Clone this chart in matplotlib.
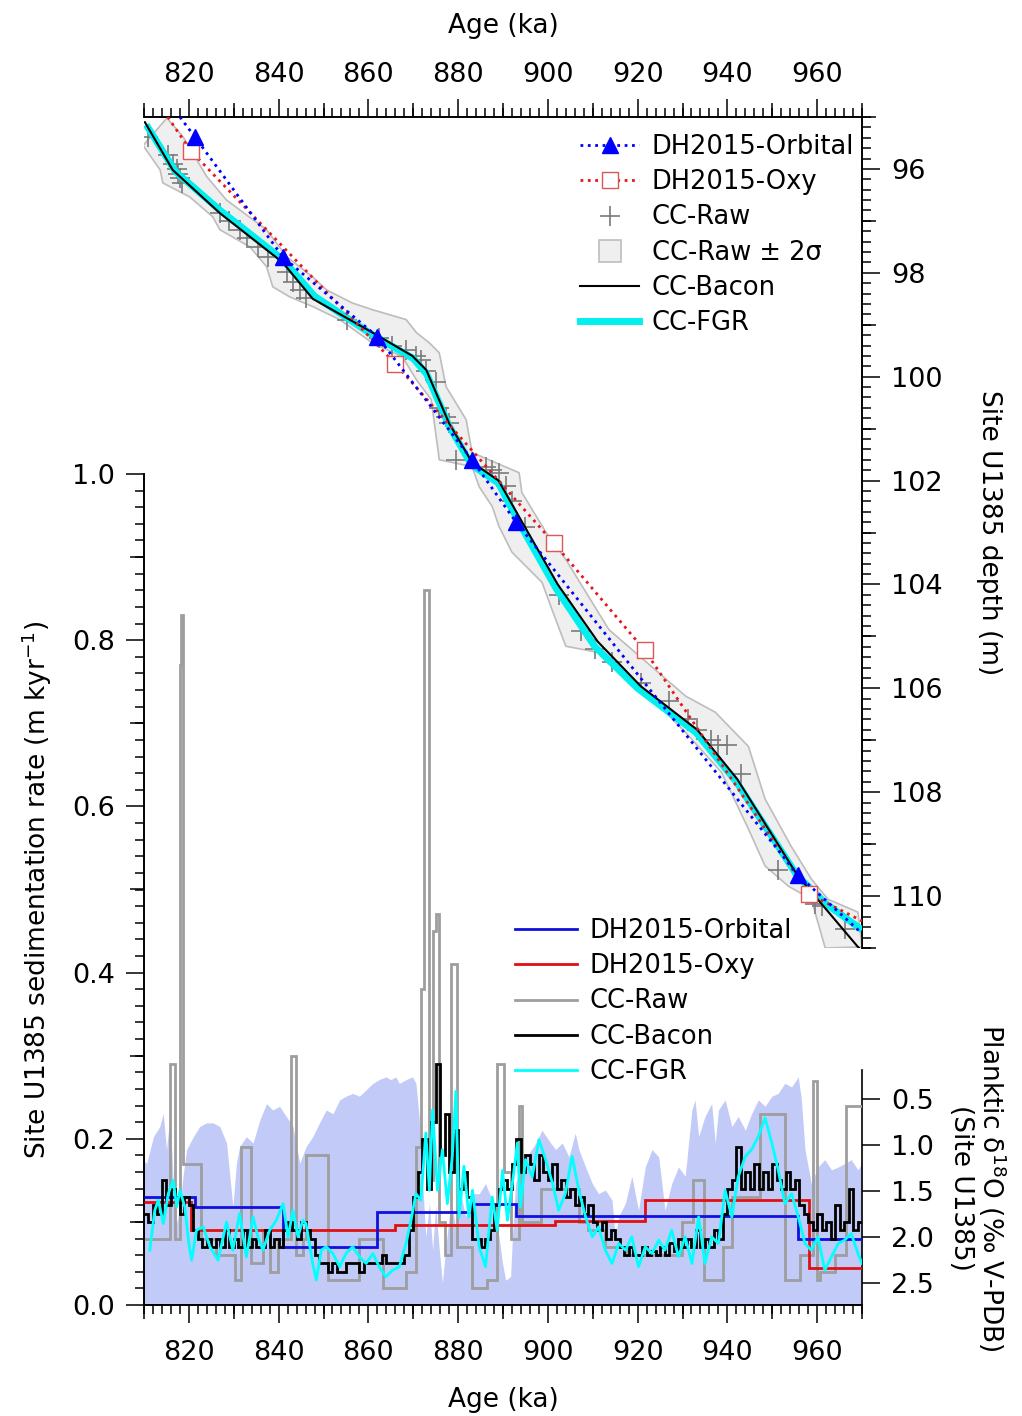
import numpy as np
import matplotlib.pyplot as plt
from matplotlib.lines import Line2D
from matplotlib.ticker import MultipleLocator

plt.rcParams['font.family'] = ['DejaVu Sans']
plt.rcParams['font.size'] = 19
plt.rcParams['xtick.labelsize'] = 19.5
plt.rcParams['ytick.labelsize'] = 19.5

# ---- top panel: age-depth models ----
bacon_age = [810.2, 816.4, 826.9, 840.9, 847.6, 860.9, 869.8, 872.9, 878.0, 883.1,
             889.0, 893.6, 902.2, 911.1, 920.7, 933.3, 942.2, 955.6, 968.9, 971.0]
bacon_depth = [95.1, 96.02, 96.85, 97.8, 98.5, 99.15, 99.6, 99.87, 100.9, 101.65,
               102.0, 102.7, 104.0, 105.1, 105.96, 106.8, 107.75, 109.6, 110.96, 111.16]

fgr_age = [810.5, 817.0, 827.0, 841.0, 848.0, 861.0, 870.0, 873.0, 878.0, 883.0,
           889.0, 893.5, 902.0, 910.5, 920.0, 933.0, 942.0, 955.5, 962.0, 970.0]
fgr_depth = [95.15, 96.05, 96.8, 97.75, 98.45, 99.2, 99.65, 99.95, 100.95, 101.7,
             102.05, 102.8, 104.1, 105.2, 106.0, 106.85, 107.8, 109.6, 110.15, 110.65]

# tie points (first and last entries are the extrapolated line ends)
orb_age = [818.0, 821.3, 841.0, 862.0, 883.1, 892.9, 955.8, 970.0]
orb_depth = [95.0, 95.38, 97.7, 99.23, 101.6, 102.8, 109.6, 110.72]
oxy_age = [815.3, 820.4, 866.0, 901.3, 921.6, 958.2, 970.0]
oxy_depth = [95.0, 95.65, 99.75, 103.2, 105.27, 109.96, 110.48]

raw_age = [811.0, 815.3, 816.4, 817.3, 817.6, 818.0, 818.4, 826.9, 829.0, 831.3,
           832.9, 835.3, 837.6, 841.8, 843.1, 844.7, 846.2, 855.3, 862.4, 865.3,
           868.4, 870.7, 871.8, 872.9, 875.1, 875.8, 877.3, 878.0, 879.6, 886.2,
           887.6, 889.0, 890.6, 892.0, 895.0, 902.4, 907.3, 910.4, 914.2, 920.7,
           926.9, 931.3, 933.3, 936.4, 937.8, 940.0, 943.0, 951.3, 959.6, 961.0, 966.2]
raw_depth = [95.38, 95.73, 95.9, 96.0, 96.1, 96.17, 96.27, 96.85, 97.0, 97.17,
             97.33, 97.5, 97.7, 97.98, 98.17, 98.33, 98.48, 98.9, 99.25, 99.4,
             99.48, 99.6, 99.67, 99.9, 100.1, 100.6, 100.77, 100.9, 101.6, 101.73,
             101.8, 101.85, 102.1, 102.4, 102.9, 104.2, 104.9, 105.25, 105.5, 105.9,
             106.25, 106.6, 106.8, 107.0, 107.1, 107.1, 107.65, 109.5, 110.15, 110.2, 110.63]

# +/- 2 sigma envelope: young edge and old edge
band_lo_age = [809.8, 813.6, 814.2, 820.2, 825.3, 826.9, 833.6, 837.3, 838.7, 842.4,
               847.6, 853.6, 860.9, 867.6, 870.7, 874.0, 875.8, 883.1, 884.7, 887.6,
               889.1, 892.0, 898.7, 900.9, 904.0, 911.3, 918.7, 926.2, 930.7, 938.7,
               944.7, 948.4, 953.6, 958.7, 961.8]
band_lo_depth = [95.55, 96.02, 96.27, 96.54, 96.92, 97.17, 97.5, 97.88, 98.27, 98.46,
                 98.65, 98.9, 99.35, 99.62, 100.06, 100.44, 101.6, 101.73, 102.12, 102.5,
                 102.88, 103.38, 103.96, 104.48, 105.19, 105.31, 105.96, 106.46, 106.85, 107.62,
                 108.71, 109.42, 109.81, 110.06, 111.0]
band_hi_age = [815.1, 818.7, 824.0, 828.4, 837.3, 841.8, 847.6, 850.7, 856.4, 860.9,
               868.4, 870.7, 873.6, 875.8, 877.3, 881.8, 883.1, 893.6, 894.2, 899.6,
               904.0, 913.6, 930.7, 937.3, 944.7, 948.4, 954.2, 958.7, 962.4, 969.1, 970.0]
band_hi_depth = [95.02, 95.38, 96.15, 96.6, 97.17, 97.69, 98.08, 98.33, 98.58, 98.71,
                 98.9, 99.15, 99.35, 99.54, 100.19, 100.83, 101.46, 101.85, 102.23, 103.0,
                 103.52, 104.87, 106.15, 106.46, 107.12, 108.13, 109.04, 109.67, 110.06, 110.31, 110.98]

# ---- bottom panel: sedimentation rates (m/kyr) ----
orb_rate_edges = [810, 821.3, 841, 862, 883.1, 892.9, 955.8, 970]
orb_rate = [0.130, 0.118, 0.070, 0.112, 0.121, 0.107, 0.080]
oxy_rate_edges = [810, 820.5, 866, 901.5, 921.7, 958.2, 970]
oxy_rate = [0.124, 0.090, 0.096, 0.101, 0.126, 0.045]

raw_rate_edges = [810, 815.8, 816.9, 818.0, 818.3, 818.6, 822.8, 826.0, 830.2, 831.7,
                  833.9, 836.5, 838.0, 839.9, 842.8, 843.9, 845.4, 846.1, 851.0, 858.0,
                  863.2, 868.4, 870.6, 871.7, 872.4, 873.6, 874.4, 875.1, 875.8, 877.0,
                  878.4, 879.8, 883.2, 886.5, 888.7, 890.2, 891.7, 893.6, 894.3, 898.4,
                  906.9, 909.0, 912.8, 917.3, 929.8, 932.4, 934.7, 939.1, 941.0, 947.3,
                  952.8, 956.2, 959.1, 959.9, 960.6, 964.0, 966.5, 970]
raw_rate = [0.08, 0.29, 0.08, 0.77, 0.83, 0.17, 0.08, 0.06, 0.03, 0.19,
            0.05, 0.09, 0.04, 0.08, 0.30, 0.06, 0.08, 0.18, 0.03, 0.08,
            0.02, 0.04, 0.19, 0.38, 0.86, 0.15, 0.45, 0.47, 0.10, 0.06,
            0.41, 0.07, 0.02, 0.03, 0.29, 0.16, 0.08, 0.24, 0.10, 0.14,
            0.10, 0.09, 0.07, 0.06, 0.10, 0.15, 0.03, 0.07, 0.13, 0.23,
            0.03, 0.06, 0.27, 0.03, 0.04, 0.06, 0.24]

bacon_rate_start = 810
bacon_rate = [0.11, 0.10, 0.12, 0.11, 0.15, 0.12, 0.14, 0.13, 0.11, 0.13,
              0.12, 0.09, 0.08, 0.07, 0.08, 0.07, 0.08, 0.07, 0.09, 0.07,
              0.08, 0.07, 0.09, 0.07, 0.08, 0.07, 0.07, 0.09, 0.07, 0.08,
              0.07, 0.09, 0.10, 0.09, 0.08, 0.10, 0.09, 0.08, 0.06, 0.05,
              0.05, 0.04, 0.05, 0.04, 0.04, 0.05, 0.05, 0.05, 0.04, 0.05,
              0.05, 0.05, 0.05, 0.06, 0.05, 0.05, 0.05, 0.05, 0.06, 0.09,
              0.13, 0.16, 0.20, 0.14, 0.22, 0.29, 0.18, 0.23, 0.16, 0.21,
              0.14, 0.16, 0.13, 0.08, 0.08, 0.07, 0.08, 0.09, 0.12, 0.14,
              0.15, 0.14, 0.17, 0.20, 0.16, 0.18, 0.17, 0.15, 0.18, 0.16,
              0.15, 0.17, 0.14, 0.15, 0.13, 0.14, 0.12, 0.13, 0.11, 0.12,
              0.10, 0.09, 0.10, 0.08, 0.09, 0.08, 0.07, 0.06, 0.07, 0.06,
              0.06, 0.07, 0.06, 0.065, 0.06, 0.07, 0.06, 0.075, 0.065, 0.08,
              0.07, 0.08, 0.07, 0.09, 0.07, 0.08, 0.07, 0.09, 0.08, 0.11,
              0.14, 0.15, 0.19, 0.14, 0.16, 0.14, 0.17, 0.14, 0.16, 0.14,
              0.17, 0.15, 0.14, 0.16, 0.14, 0.15, 0.12, 0.11, 0.10, 0.09,
              0.11, 0.09, 0.10, 0.08, 0.12, 0.09, 0.10, 0.14, 0.09, 0.10]

fgr_rate_age = [811.3, 812.4, 813.2, 814.3, 815.4, 816.5, 817.3, 818.0, 819.1, 819.9,
                820.6, 821.7, 823.2, 824.7, 826.5, 828.4, 829.8, 831.3, 832.8, 834.3,
                835.4, 836.5, 838.0, 839.5, 841.0, 842.1, 843.2, 844.3, 845.4, 846.1,
                847.6, 848.4, 849.5, 850.6, 852.1, 853.6, 855.0, 856.5, 858.0, 859.5,
                861.0, 862.4, 863.9, 865.4, 866.9, 868.4, 869.5, 870.6, 871.7, 872.8,
                873.6, 874.3, 875.4, 876.5, 877.6, 878.7, 879.5, 880.2, 881.3, 882.4,
                883.2, 884.7, 886.1, 887.6, 888.7, 889.9, 891.0, 892.1, 893.2, 893.9,
                895.0, 896.5, 898.0, 899.5, 901.0, 902.4, 903.9, 905.4, 906.9, 908.4,
                909.9, 911.3, 912.8, 914.3, 915.8, 917.3, 918.7, 920.2, 921.7, 923.2,
                924.7, 926.1, 927.6, 929.1, 930.6, 932.1, 933.6, 935.0, 936.5, 938.0,
                939.5, 941.0, 942.4, 944.0, 945.4, 946.9, 948.4, 949.9, 951.3, 952.8,
                954.3, 955.8, 957.3, 958.7, 960.2, 961.7, 963.2, 964.7, 966.1, 967.6,
                969.1, 970.0]
fgr_rate = [0.066, 0.114, 0.126, 0.098, 0.134, 0.150, 0.118, 0.138, 0.118, 0.078,
            0.054, 0.090, 0.094, 0.070, 0.054, 0.100, 0.066, 0.110, 0.058, 0.106,
            0.082, 0.066, 0.090, 0.102, 0.122, 0.082, 0.114, 0.082, 0.102, 0.098,
            0.050, 0.030, 0.066, 0.070, 0.062, 0.046, 0.062, 0.070, 0.058, 0.050,
            0.062, 0.046, 0.034, 0.042, 0.046, 0.074, 0.102, 0.134, 0.126, 0.207,
            0.138, 0.235, 0.138, 0.187, 0.122, 0.179, 0.257, 0.106, 0.167, 0.106,
            0.138, 0.070, 0.046, 0.130, 0.090, 0.162, 0.102, 0.147, 0.195, 0.118,
            0.175, 0.154, 0.199, 0.175, 0.147, 0.114, 0.134, 0.179, 0.138, 0.106,
            0.082, 0.094, 0.066, 0.050, 0.074, 0.066, 0.082, 0.046, 0.070, 0.062,
            0.078, 0.066, 0.090, 0.058, 0.082, 0.050, 0.106, 0.050, 0.082, 0.074,
            0.138, 0.106, 0.154, 0.179, 0.187, 0.203, 0.225, 0.195, 0.163, 0.122,
            0.134, 0.106, 0.074, 0.066, 0.082, 0.042, 0.058, 0.074, 0.078, 0.086,
            0.062, 0.050]

# planktic d18O (per mil V-PDB)
d18o_age = [809.1, 810.6, 812.1, 813.5, 814.3, 815.0, 815.8, 816.5, 817.3, 818.0,
            818.7, 819.5, 821.0, 822.4, 823.9, 825.4, 826.9, 828.4, 829.8, 830.6,
            831.3, 832.8, 834.3, 835.8, 837.3, 838.7, 840.2, 841.7, 843.2, 844.7,
            846.1, 847.6, 849.1, 850.6, 852.1, 853.6, 855.0, 856.5, 858.0, 859.5,
            861.0, 862.4, 863.9, 865.0, 866.1, 866.9, 868.4, 869.8, 870.6, 871.3,
            872.1, 872.8, 873.6, 874.3, 875.0, 875.8, 876.5, 877.2, 878.0, 878.7,
            879.5, 880.2, 881.0, 881.7, 882.4, 883.2, 884.7, 886.1, 887.6, 889.1,
            889.9, 890.6, 891.7, 892.1, 892.8, 894.3, 895.8, 897.3, 898.7, 900.2,
            901.7, 903.2, 904.7, 906.1, 906.9, 908.4, 909.9, 911.3, 912.8, 914.3,
            915.0, 915.8, 917.3, 918.7, 920.2, 921.7, 923.2, 924.7, 926.1, 927.6,
            929.1, 930.6, 932.1, 932.8, 933.6, 935.0, 936.5, 937.3, 938.0, 939.5,
            941.0, 942.4, 944.0, 945.4, 946.9, 948.4, 949.9, 951.3, 952.8, 954.3,
            955.8, 956.5, 957.3, 958.7, 960.2, 961.7, 963.2, 964.7, 966.2, 967.6,
            969.1, 970.0]
d18o = [1.13, 1.20, 0.91, 0.80, 0.66, 1.05, 0.69, 1.38, 1.85, 1.67,
        1.34, 1.05, 0.91, 0.80, 0.76, 0.76, 0.80, 0.98, 1.67, 1.20,
        1.02, 0.91, 0.98, 0.73, 0.55, 0.62, 0.58, 0.69, 0.80, 1.20,
        1.02, 0.91, 0.76, 0.62, 0.66, 0.51, 0.47, 0.44, 0.47, 0.40,
        0.33, 0.29, 0.26, 0.29, 0.26, 0.33, 0.29, 0.26, 0.33, 0.69,
        1.42, 2.00, 1.63, 2.14, 1.67, 2.14, 2.50, 2.14, 1.78, 1.67,
        1.92, 1.42, 1.63, 1.78, 1.67, 1.53, 1.53, 1.42, 1.60, 2.00,
        2.29, 2.47, 2.43, 2.00, 1.42, 1.16, 1.09, 0.98, 0.84, 0.95,
        1.05, 0.98, 1.13, 0.87, 1.05, 1.24, 1.42, 1.53, 1.49, 1.60,
        2.00, 1.78, 1.63, 1.34, 1.71, 1.24, 1.05, 1.13, 1.71, 1.42,
        1.24, 1.34, 0.62, 0.51, 0.91, 0.69, 0.55, 0.98, 0.62, 0.51,
        0.80, 0.69, 0.84, 0.66, 0.51, 0.58, 0.47, 0.44, 0.33, 0.37,
        0.26, 0.51, 1.05, 1.42, 1.24, 1.16, 1.27, 1.24, 1.20, 1.16,
        1.27, 1.20]

W, H = 1022, 1416
fig = plt.figure(figsize=(W / 100, H / 100), dpi=100)

def box(x0, y0, x1, y1):
    return [x0 / W, 1 - y1 / H, (x1 - x0) / W, (y1 - y0) / H]

ax_d18 = fig.add_axes(box(144, 1070, 862, 1305))
ax_rate = fig.add_axes(box(144, 474, 862, 1305))
ax_top = fig.add_axes(box(144, 117, 862, 948))
ax_d18.set_zorder(0)
ax_rate.set_zorder(1)
ax_top.set_zorder(2)
for a in (ax_d18, ax_rate, ax_top):
    a.set_facecolor('none')
    a.set_xlim(810, 970)
    for s in a.spines.values():
        s.set_linewidth(1.2)

MAJ, MID, MIN = 13, 10, 6.5
TW = 1.1

def mid_ticks(ax, axis, loc, ticks):
    if axis == 'x':
        sec = ax.secondary_xaxis(loc)
        sec.set_xticks(ticks)
        sec.set_xticklabels([])
    else:
        sec = ax.secondary_yaxis(loc)
        sec.set_yticks(ticks)
        sec.set_yticklabels([])
    sec.tick_params(which='both', length=MID, width=TW, direction='out')
    for s in sec.spines.values():
        s.set_linewidth(1.2)

# ---------------- top panel ----------------
band_age = band_lo_age + band_hi_age[::-1]
band_depth = band_lo_depth + band_hi_depth[::-1]
ax_top.fill(band_age, band_depth, facecolor='#efefef', edgecolor='#bdbdbd', lw=1.2, zorder=1)
ax_top.plot(raw_age, raw_depth, ls='none', marker='+', ms=15, mew=1.2, color='#7a7a7a', zorder=2)
ax_top.plot(fgr_age, fgr_depth, color='#00f0f0', lw=5, solid_capstyle='butt', zorder=3)
ax_top.plot(bacon_age, bacon_depth, color='black', lw=1.5, zorder=4)
ax_top.plot(oxy_age, oxy_depth, color='#e8161c', ls=':', lw=2, zorder=5,
            marker='s', ms=11, mfc='white', mec='#e05555', mew=1.0, markevery=list(range(1, len(oxy_age) - 1)))
ax_top.plot(orb_age, orb_depth, color='#0000ff', ls=':', lw=2, zorder=6,
            marker='^', ms=12, mfc='#0000ff', mec='#0000ff', markevery=list(range(1, len(orb_age) - 1)))

ax_top.set_ylim(111, 95)
ax_top.spines['left'].set_visible(False)
ax_top.spines['bottom'].set_visible(False)
ax_top.xaxis.tick_top()
ax_top.xaxis.set_label_position('top')
ax_top.yaxis.tick_right()
ax_top.yaxis.set_label_position('right')
ax_top.xaxis.set_major_locator(MultipleLocator(20))
ax_top.xaxis.set_minor_locator(MultipleLocator(2))
ax_top.yaxis.set_major_locator(MultipleLocator(2))
ax_top.yaxis.set_minor_locator(MultipleLocator(0.2))
ax_top.tick_params(which='major', length=MAJ, width=TW, direction='out', pad=8)
ax_top.tick_params(which='minor', length=MIN, width=TW, direction='out')
ax_top.set_xlabel('Age (ka)', labelpad=21)
ax_top.set_ylabel('Site U1385 depth (m)', rotation=270, va='bottom', labelpad=24)
mid_ticks(ax_top, 'x', 'top', np.arange(810, 971, 20))
mid_ticks(ax_top, 'y', 'right', np.arange(95, 112, 2))

top_handles = [
    Line2D([], [], color='#0000ff', ls=':', lw=2, marker='^', ms=12, mfc='#0000ff'),
    Line2D([], [], color='#e8161c', ls=':', lw=2, marker='s', ms=11, mfc='white', mec='#e05555', mew=1.0),
    Line2D([], [], ls='none', marker='+', ms=15, mew=1.2, color='#7a7a7a'),
    Line2D([], [], ls='none', marker='s', ms=16, mfc='#efefef', mec='#bdbdbd', mew=1.2),
    Line2D([], [], color='black', lw=1.5),
    Line2D([], [], color='#00f0f0', lw=5),
]
top_labels = ['DH2015-Orbital', 'DH2015-Oxy', 'CC-Raw', 'CC-Raw ± 2σ', 'CC-Bacon', 'CC-FGR']
fig.legend(top_handles, top_labels, loc='upper left', bbox_to_anchor=(580 / W, 1 - 134 / H),
           frameon=False, borderpad=0, borderaxespad=0, handlelength=2.3, handletextpad=0.5,
           labelspacing=0.36, fontsize=18.5)

# ---------------- bottom panel ----------------
ax_d18.fill_between(d18o_age, d18o, 2.74, color='#c2cbf7', lw=0)
ax_d18.set_ylim(2.74, 0.185)
for s in ('left', 'top', 'bottom'):
    ax_d18.spines[s].set_visible(False)
ax_d18.xaxis.set_visible(False)
ax_d18.yaxis.tick_right()
ax_d18.yaxis.set_label_position('right')
ax_d18.set_yticks([0.5, 1.0, 1.5, 2.0, 2.5])
ax_d18.set_yticklabels(['0.5', '1.0', '1.5', '2.0', '2.5'])
ax_d18.tick_params(length=MAJ, width=TW, direction='out', pad=8)
ax_d18.set_ylabel('Planktic δ$^{18}$O (‰ V-PDB)\n(Site U1385)', rotation=270, va='bottom',
                  labelpad=10, linespacing=1.1)

bacon_edges = np.arange(bacon_rate_start, bacon_rate_start + len(bacon_rate) + 1)
ax_rate.stairs(raw_rate, raw_rate_edges, baseline=None, color='#9e9e9e', lw=2, zorder=2)
ax_rate.stairs(oxy_rate, oxy_rate_edges, baseline=None, color='#e01010', lw=2, zorder=3)
ax_rate.stairs(orb_rate, orb_rate_edges, baseline=None, color='#1010e0', lw=2, zorder=4)
ax_rate.stairs(bacon_rate, bacon_edges, baseline=None, color='black', lw=2, zorder=5)
ax_rate.plot(fgr_rate_age, fgr_rate, color='#00ffff', lw=2, zorder=6)

ax_rate.set_ylim(0, 1.0)
ax_rate.spines['top'].set_visible(False)
ax_rate.spines['right'].set_visible(False)
ax_rate.xaxis.set_major_locator(MultipleLocator(20))
ax_rate.xaxis.set_minor_locator(MultipleLocator(2))
ax_rate.yaxis.set_major_locator(MultipleLocator(0.2))
ax_rate.yaxis.set_minor_locator(MultipleLocator(0.02))
ax_rate.yaxis.set_major_formatter(lambda v, p: f'{v:.1f}')
ax_rate.tick_params(which='major', length=MAJ, width=TW, direction='out', pad=8)
ax_rate.tick_params(axis='x', which='major', pad=12)
ax_rate.tick_params(which='minor', length=MIN, width=TW, direction='out')
ax_rate.set_xlabel('Age (ka)', labelpad=15)
ax_rate.set_ylabel('Site U1385 sedimentation rate (m kyr$^{-1}$)', labelpad=13)
mid_ticks(ax_rate, 'x', 'bottom', np.arange(810, 971, 20))
mid_ticks(ax_rate, 'y', 'left', np.arange(0.1, 1.0, 0.2))

bot_handles = [Line2D([], [], color=c, lw=2) for c in ('#1010e0', '#e01010', '#9e9e9e', 'black', '#00ffff')]
bot_labels = ['DH2015-Orbital', 'DH2015-Oxy', 'CC-Raw', 'CC-Bacon', 'CC-FGR']
fig.legend(bot_handles, bot_labels, loc='upper left', bbox_to_anchor=(515 / W, 1 - 918 / H),
           frameon=False, borderpad=0, borderaxespad=0, handlelength=2.4, handletextpad=0.5,
           labelspacing=0.36, fontsize=18.5)

fig.savefig('out.png', dpi=100)
